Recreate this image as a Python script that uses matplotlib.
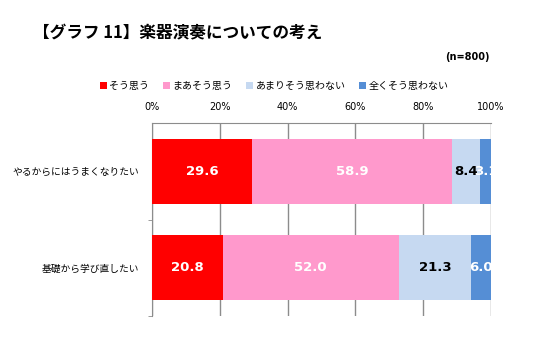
import matplotlib
matplotlib.use('Agg')
import matplotlib.pyplot as plt
from matplotlib.patches import Patch
import numpy as np

plt.rcParams['font.family'] = ['Noto Sans CJK JP', 'DejaVu Sans']

# data
categories = ['やるからにはうまくなりたい', '基礎から学び直したい']
series_names = ['そう思う', 'まあそう思う', 'あまりそう思わない', '全くそう思わない']
values = [
    [29.6, 20.8],   # そう思う
    [58.9, 52.0],   # まあそう思う
    [8.4, 21.3],    # あまりそう思わない
    [3.1, 6.0],     # 全くそう思わない
]
colors = ['#FF0000', '#FF99CC', '#C6D9F1', '#558ED5']
label_colors = ['white', 'white', 'black', 'white']
xticks = [0, 20, 40, 60, 80, 100]

fig = plt.figure(figsize=(5.6, 3.4), dpi=100)
ax = fig.add_axes([152/560, 1-316/340, 339/560, 193/340])

y = np.arange(len(categories))
left = np.zeros(len(categories))
for i, name in enumerate(series_names):
    vals = np.array(values[i])
    ax.barh(y, vals, left=left, height=0.67, color=colors[i], zorder=3)
    for j, v in enumerate(vals):
        ax.text(left[j] + v/2, y[j], f'{v:.1f}', ha='center', va='center',
                color=label_colors[i], fontsize=9.5, fontweight='bold',
                family='DejaVu Sans', zorder=4, clip_on=True)
    left += vals

ax.set_xlim(0, 100)
ax.set_ylim(1.5, -0.5)
ax.set_xticks(xticks)
ax.set_xticklabels([f'{t}%' for t in xticks], fontsize=7, family='DejaVu Sans')
ax.xaxis.tick_top()
ax.tick_params(axis='x', length=0, pad=8)
ax.grid(axis='x', color='#8C8C8C', linewidth=1, zorder=0)

ax.set_yticks(y)
ax.set_yticklabels(categories, fontsize=7)
ax.set_yticks([0.5, 1.5], minor=True)
ax.tick_params(axis='y', which='major', length=0, pad=9)
ax.tick_params(axis='y', which='minor', length=3, color='#8C8C8C')

for s in ['right', 'bottom']:
    ax.spines[s].set_visible(False)
for s in ['left', 'top']:
    ax.spines[s].set_color('#8C8C8C')

fig.text(33/560, 1-33/340, '【グラフ 11】楽器演奏についての考え', fontsize=12,
         fontweight='bold', va='center', ha='left')
fig.text(490/560, 1-57/340, '(n=800)', fontsize=7, fontweight='bold',
         va='center', ha='right', family='DejaVu Sans')

handles = [Patch(facecolor=c, edgecolor='none') for c in colors]
fig.legend(handles, series_names, loc='center', ncol=4,
           bbox_to_anchor=(274/560, 1-86/340), frameon=False, fontsize=7.2,
           handlelength=0.7, handleheight=0.7, handletextpad=0.3,
           columnspacing=1.3)

fig.savefig('out.png', dpi=100)
